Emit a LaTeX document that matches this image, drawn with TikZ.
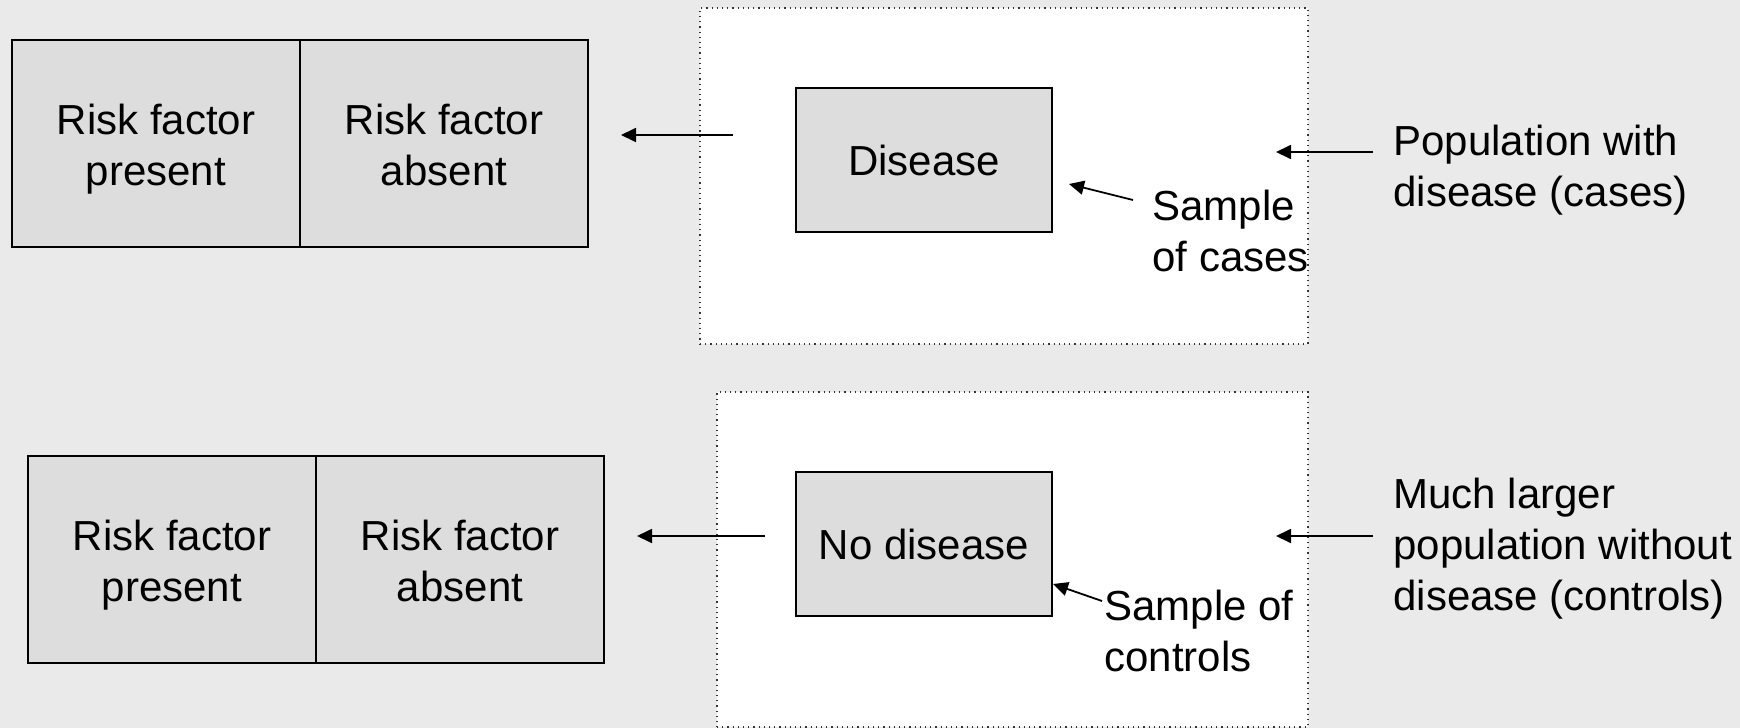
\documentclass[tikz,border=0pt]{standalone}
\usepackage{fontspec}
\setmainfont{Liberation Sans}
\usetikzlibrary{arrows.meta}
\definecolor{bgcol}{HTML}{EAEAEA}
\definecolor{boxcol}{HTML}{DDDDDD}
\begin{document}
\begin{tikzpicture}[x=0.5pt,y=-0.5pt,
  cell/.style={draw=black,line width=0.9pt,fill=boxcol,minimum width=144pt,minimum height=103.5pt,inner sep=0pt},
  celltxt/.style={inner sep=0pt,align=center,font=\fontsize{21}{25.5}\selectfont},
  grp/.style={draw=black,line width=0.9pt,fill=boxcol,minimum width=128pt,minimum height=72pt,inner sep=0pt,align=center,font=\fontsize{21}{25.5}\selectfont},
  frame/.style={draw=black!80,dotted,line width=0.6pt,fill=white,inner sep=0pt},
  lbl/.style={anchor=west,inner sep=0pt,align=left,font=\fontsize{21}{25.5}\selectfont},
  arr/.style={line width=0.9pt,-{Triangle[length=7.5pt,width=7pt]}}]
\useasboundingbox (0,0) rectangle (1740,728);
\fill[bgcol] (0,0) rectangle (1740,728);
% frames
\node[frame,minimum width=304pt,minimum height=168pt] (ftop) at (1004,176) {};
\node[frame,minimum width=295.5pt,minimum height=167.5pt] (fbot) at (1012.5,559.5) {};
% risk factor boxes
\node[cell] (rp1) at (156,143.5) {};
\node[cell] (ra1) at (444,143.5) {};
\node[cell] (rp2) at (172,559.5) {};
\node[cell] (ra2) at (460,559.5) {};
\node[celltxt] (trp1) at (156,149) {Risk factor\\present\vphantom{p}};
\node[celltxt] (tra1) at (444,149) {Risk factor\\absent\vphantom{p}};
\node[celltxt] (trp2) at (172,565.5) {Risk factor\\present\vphantom{p}};
\node[celltxt] (tra2) at (460,565.5) {Risk factor\\absent\vphantom{p}};
% disease boxes
\node[grp] (dis) at (924,160) {Disease};
\node[grp] (nodis) at (924,544) {No disease};
% labels
\node[lbl] (scases) at (1152,230.5) {Sample\\of cases};
\node[lbl] (sctrl) at (1104,630.5) {Sample of\\controls};
\node[lbl] (popc) at (1393,170.5) {Population with\\disease (cases)};
\node[lbl] (popn) at (1393,548.5) {Much larger\\population without\\disease (controls)};
% connector endpoints
\coordinate (a1s) at (733,135); \coordinate (a1e) at (621,135);
\coordinate (a2s) at (765,536); \coordinate (a2e) at (637,536);
\coordinate (a3s) at (1373,152); \coordinate (a3e) at (1276,152);
\coordinate (a4s) at (1373,536); \coordinate (a4e) at (1276,536);
\coordinate (a5s) at (1133,200); \coordinate (a5e) at (1069,184);
\coordinate (a6s) at (1102,601); \coordinate (a6e) at (1053,584);
\draw[arr] (a1s) -- (a1e);
\draw[arr] (a2s) -- (a2e);
\draw[arr] (a3s) -- (a3e);
\draw[arr] (a4s) -- (a4e);
\draw[arr] (a5s) -- (a5e);
\draw[arr] (a6s) -- (a6e);
\end{tikzpicture}
\end{document}
